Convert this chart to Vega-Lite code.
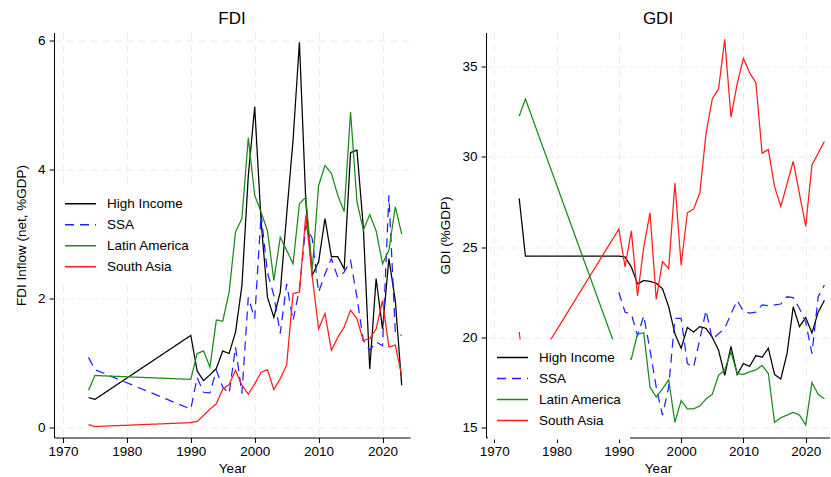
{
  "$schema": "https://vega.github.io/schema/vega-lite/v6.json",
  "padding": {"left": 14, "top": 9.5, "right": 0, "bottom": 0},
  "background": "white",
  "datasets": {
    "d": [
      {"year":1974,"region":"High Income","fdi":0.47,"gdi":27.7},
      {"year":1975,"region":"High Income","fdi":0.44,"gdi":24.5},
      {"year":1990,"region":"High Income","fdi":1.43,"gdi":24.5},
      {"year":1991,"region":"High Income","fdi":0.88,"gdi":24.45},
      {"year":1992,"region":"High Income","fdi":0.73,"gdi":23.9},
      {"year":1993,"region":"High Income","fdi":0.82,"gdi":22.96},
      {"year":1994,"region":"High Income","fdi":0.92,"gdi":23.15},
      {"year":1995,"region":"High Income","fdi":1.19,"gdi":23.1},
      {"year":1996,"region":"High Income","fdi":1.15,"gdi":23.0},
      {"year":1997,"region":"High Income","fdi":1.48,"gdi":22.7},
      {"year":1998,"region":"High Income","fdi":2.2,"gdi":21.7},
      {"year":1999,"region":"High Income","fdi":3.9,"gdi":20.2},
      {"year":2000,"region":"High Income","fdi":4.97,"gdi":19.4},
      {"year":2001,"region":"High Income","fdi":3.2,"gdi":20.55},
      {"year":2002,"region":"High Income","fdi":2.02,"gdi":20.3},
      {"year":2003,"region":"High Income","fdi":1.71,"gdi":20.6},
      {"year":2004,"region":"High Income","fdi":2.1,"gdi":20.5},
      {"year":2005,"region":"High Income","fdi":3.3,"gdi":20.0},
      {"year":2006,"region":"High Income","fdi":4.45,"gdi":19.3},
      {"year":2007,"region":"High Income","fdi":5.97,"gdi":17.9},
      {"year":2008,"region":"High Income","fdi":3.5,"gdi":19.5},
      {"year":2009,"region":"High Income","fdi":2.36,"gdi":17.95},
      {"year":2010,"region":"High Income","fdi":2.57,"gdi":18.55},
      {"year":2011,"region":"High Income","fdi":3.24,"gdi":18.4},
      {"year":2012,"region":"High Income","fdi":2.65,"gdi":19.0},
      {"year":2013,"region":"High Income","fdi":2.65,"gdi":18.9},
      {"year":2014,"region":"High Income","fdi":2.46,"gdi":19.4},
      {"year":2015,"region":"High Income","fdi":4.26,"gdi":17.95},
      {"year":2016,"region":"High Income","fdi":4.3,"gdi":17.7},
      {"year":2017,"region":"High Income","fdi":3.1,"gdi":19.1},
      {"year":2018,"region":"High Income","fdi":0.91,"gdi":21.7},
      {"year":2019,"region":"High Income","fdi":2.31,"gdi":20.6},
      {"year":2020,"region":"High Income","fdi":1.53,"gdi":21.1},
      {"year":2021,"region":"High Income","fdi":2.62,"gdi":20.25},
      {"year":2022,"region":"High Income","fdi":1.97,"gdi":21.4},
      {"year":2023,"region":"High Income","fdi":0.66,"gdi":22.05},

      {"year":1974,"region":"SSA","fdi":1.09,"gdi":null},
      {"year":1975,"region":"SSA","fdi":0.9,"gdi":null},
      {"year":1990,"region":"SSA","fdi":0.29,"gdi":22.5},
      {"year":1991,"region":"SSA","fdi":0.78,"gdi":21.4},
      {"year":1992,"region":"SSA","fdi":0.55,"gdi":21.3},
      {"year":1993,"region":"SSA","fdi":0.54,"gdi":20.1},
      {"year":1994,"region":"SSA","fdi":0.89,"gdi":21.2},
      {"year":1995,"region":"SSA","fdi":0.63,"gdi":19.3},
      {"year":1996,"region":"SSA","fdi":0.53,"gdi":17.25},
      {"year":1997,"region":"SSA","fdi":1.25,"gdi":15.7},
      {"year":1998,"region":"SSA","fdi":0.53,"gdi":17.25},
      {"year":1999,"region":"SSA","fdi":2.02,"gdi":21.05},
      {"year":2000,"region":"SSA","fdi":1.69,"gdi":21.05},
      {"year":2001,"region":"SSA","fdi":3.31,"gdi":18.55},
      {"year":2002,"region":"SSA","fdi":2.4,"gdi":18.35},
      {"year":2003,"region":"SSA","fdi":2.05,"gdi":19.9},
      {"year":2004,"region":"SSA","fdi":1.46,"gdi":21.5},
      {"year":2005,"region":"SSA","fdi":2.23,"gdi":19.9},
      {"year":2006,"region":"SSA","fdi":1.66,"gdi":20.2},
      {"year":2007,"region":"SSA","fdi":2.15,"gdi":20.5},
      {"year":2008,"region":"SSA","fdi":3.13,"gdi":21.3},
      {"year":2009,"region":"SSA","fdi":2.93,"gdi":22.05},
      {"year":2010,"region":"SSA","fdi":2.1,"gdi":21.45},
      {"year":2011,"region":"SSA","fdi":2.38,"gdi":21.35},
      {"year":2012,"region":"SSA","fdi":2.62,"gdi":21.4},
      {"year":2013,"region":"SSA","fdi":2.33,"gdi":21.8},
      {"year":2014,"region":"SSA","fdi":2.41,"gdi":21.75},
      {"year":2015,"region":"SSA","fdi":2.59,"gdi":21.8},
      {"year":2016,"region":"SSA","fdi":2.02,"gdi":21.85},
      {"year":2017,"region":"SSA","fdi":1.35,"gdi":22.25},
      {"year":2018,"region":"SSA","fdi":1.2,"gdi":22.2},
      {"year":2019,"region":"SSA","fdi":1.33,"gdi":21.6},
      {"year":2020,"region":"SSA","fdi":1.27,"gdi":20.85},
      {"year":2021,"region":"SSA","fdi":3.6,"gdi":19.1},
      {"year":2022,"region":"SSA","fdi":1.48,"gdi":22.25},
      {"year":2023,"region":"SSA","fdi":1.43,"gdi":22.9},

      {"year":1974,"region":"Latin America","fdi":0.58,"gdi":32.25},
      {"year":1975,"region":"Latin America","fdi":0.81,"gdi":33.2},
      {"year":1990,"region":"Latin America","fdi":0.75,"gdi":18.95},
      {"year":1991,"region":"Latin America","fdi":1.15,"gdi":18.9},
      {"year":1992,"region":"Latin America","fdi":1.19,"gdi":18.8},
      {"year":1993,"region":"Latin America","fdi":0.94,"gdi":20.2},
      {"year":1994,"region":"Latin America","fdi":1.67,"gdi":20.25},
      {"year":1995,"region":"Latin America","fdi":1.65,"gdi":17.25},
      {"year":1996,"region":"Latin America","fdi":2.1,"gdi":16.7},
      {"year":1997,"region":"Latin America","fdi":3.03,"gdi":17.15},
      {"year":1998,"region":"Latin America","fdi":3.24,"gdi":17.65},
      {"year":1999,"region":"Latin America","fdi":4.49,"gdi":15.3},
      {"year":2000,"region":"Latin America","fdi":3.6,"gdi":16.5},
      {"year":2001,"region":"Latin America","fdi":3.34,"gdi":16.05},
      {"year":2002,"region":"Latin America","fdi":3.05,"gdi":16.05},
      {"year":2003,"region":"Latin America","fdi":2.28,"gdi":16.2},
      {"year":2004,"region":"Latin America","fdi":2.95,"gdi":16.6},
      {"year":2005,"region":"Latin America","fdi":2.75,"gdi":16.85},
      {"year":2006,"region":"Latin America","fdi":2.54,"gdi":17.9},
      {"year":2007,"region":"Latin America","fdi":3.47,"gdi":18.2},
      {"year":2008,"region":"Latin America","fdi":3.57,"gdi":19.2},
      {"year":2009,"region":"Latin America","fdi":2.45,"gdi":18.0},
      {"year":2010,"region":"Latin America","fdi":3.75,"gdi":17.95},
      {"year":2011,"region":"Latin America","fdi":4.06,"gdi":18.1},
      {"year":2012,"region":"Latin America","fdi":3.94,"gdi":18.2},
      {"year":2013,"region":"Latin America","fdi":3.6,"gdi":18.45},
      {"year":2014,"region":"Latin America","fdi":3.35,"gdi":18.0},
      {"year":2015,"region":"Latin America","fdi":4.89,"gdi":15.3},
      {"year":2016,"region":"Latin America","fdi":3.5,"gdi":15.55},
      {"year":2017,"region":"Latin America","fdi":3.06,"gdi":15.7},
      {"year":2018,"region":"Latin America","fdi":3.3,"gdi":15.85},
      {"year":2019,"region":"Latin America","fdi":3.05,"gdi":15.7},
      {"year":2020,"region":"Latin America","fdi":2.54,"gdi":15.15},
      {"year":2021,"region":"Latin America","fdi":2.75,"gdi":17.5},
      {"year":2022,"region":"Latin America","fdi":3.42,"gdi":16.85},
      {"year":2023,"region":"Latin America","fdi":3.0,"gdi":16.6},

      {"year":1974,"region":"South Asia","fdi":0.05,"gdi":20.3},
      {"year":1975,"region":"South Asia","fdi":0.02,"gdi":17.6},
      {"year":1990,"region":"South Asia","fdi":0.08,"gdi":26.0},
      {"year":1991,"region":"South Asia","fdi":0.1,"gdi":23.9},
      {"year":1992,"region":"South Asia","fdi":0.19,"gdi":25.9},
      {"year":1993,"region":"South Asia","fdi":0.29,"gdi":22.3},
      {"year":1994,"region":"South Asia","fdi":0.37,"gdi":25.0},
      {"year":1995,"region":"South Asia","fdi":0.6,"gdi":26.9},
      {"year":1996,"region":"South Asia","fdi":0.67,"gdi":22.1},
      {"year":1997,"region":"South Asia","fdi":0.89,"gdi":24.2},
      {"year":1998,"region":"South Asia","fdi":0.66,"gdi":23.8},
      {"year":1999,"region":"South Asia","fdi":0.52,"gdi":28.55},
      {"year":2000,"region":"South Asia","fdi":0.68,"gdi":24.0},
      {"year":2001,"region":"South Asia","fdi":0.86,"gdi":26.9},
      {"year":2002,"region":"South Asia","fdi":0.9,"gdi":27.1},
      {"year":2003,"region":"South Asia","fdi":0.59,"gdi":28.0},
      {"year":2004,"region":"South Asia","fdi":0.76,"gdi":31.3},
      {"year":2005,"region":"South Asia","fdi":0.97,"gdi":33.2},
      {"year":2006,"region":"South Asia","fdi":2.08,"gdi":33.75},
      {"year":2007,"region":"South Asia","fdi":2.1,"gdi":36.5},
      {"year":2008,"region":"South Asia","fdi":3.29,"gdi":32.2},
      {"year":2009,"region":"South Asia","fdi":2.35,"gdi":34.05},
      {"year":2010,"region":"South Asia","fdi":1.53,"gdi":35.45},
      {"year":2011,"region":"South Asia","fdi":1.77,"gdi":34.65},
      {"year":2012,"region":"South Asia","fdi":1.2,"gdi":34.1},
      {"year":2013,"region":"South Asia","fdi":1.4,"gdi":30.2},
      {"year":2014,"region":"South Asia","fdi":1.56,"gdi":30.4},
      {"year":2015,"region":"South Asia","fdi":1.82,"gdi":28.35},
      {"year":2016,"region":"South Asia","fdi":1.69,"gdi":27.25},
      {"year":2017,"region":"South Asia","fdi":1.35,"gdi":28.5},
      {"year":2018,"region":"South Asia","fdi":1.38,"gdi":29.75},
      {"year":2019,"region":"South Asia","fdi":1.53,"gdi":27.95},
      {"year":2020,"region":"South Asia","fdi":1.97,"gdi":26.15},
      {"year":2021,"region":"South Asia","fdi":1.25,"gdi":29.55},
      {"year":2022,"region":"South Asia","fdi":1.28,"gdi":30.2},
      {"year":2023,"region":"South Asia","fdi":0.81,"gdi":30.85}
    ]
  },
  "spacing": 28,
  "hconcat": [
    {
      "title": "FDI",
      "width": 356,
      "height": 405,
      "data": {"name": "d"},
      "mark": {"type": "line", "strokeWidth": 1.25},
      "encoding": {
        "x": {"field": "year", "type": "quantitative",
              "scale": {"domain": [1968.6, 2024.3], "nice": false, "zero": false},
              "axis": {"values": [1970, 1980, 1990, 2000, 2010, 2020], "format": "d", "title": "Year"}},
        "y": {"field": "fdi", "type": "quantitative",
              "scale": {"domain": [-0.15, 6.12], "nice": false, "zero": false},
              "axis": {"values": [0, 2, 4, 6], "title": "FDI Inflow (net, %GDP)"}},
        "color": {"field": "region", "type": "nominal",
                  "scale": {"domain": ["High Income", "SSA", "Latin America", "South Asia"],
                            "range": ["#000000", "#2020ff", "#1a8a1a", "#ff1c1c"]},
                  "legend": {"title": null, "orient": "none", "legendX": 2, "legendY": 153.1,
                             "fillColor": "white", "padding": 8, "symbolType": "stroke",
                             "symbolSize": 961, "symbolStrokeWidth": 1.5, "labelOffset": 10,
                             "rowPadding": 0, "clipHeight": 20.4, "labelFontSize": 13.5, "labelFont": "Liberation Sans",
                             "labelColor": "#000", "zindex": 1}},
        "strokeDash": {"field": "region", "type": "nominal",
                  "scale": {"domain": ["High Income", "SSA", "Latin America", "South Asia"],
                            "range": [[1, 0], [9, 6], [1, 0], [1, 0]]},
                  "legend": {"title": null, "orient": "none", "legendX": 2, "legendY": 153.1,
                             "fillColor": "white", "padding": 8, "symbolType": "stroke",
                             "symbolSize": 961, "symbolStrokeWidth": 1.5, "labelOffset": 10,
                             "rowPadding": 0, "clipHeight": 20.4, "labelFontSize": 13.5, "labelFont": "Liberation Sans",
                             "labelColor": "#000", "zindex": 1}}
      }
    },
    {
      "title": "GDI",
      "width": 344,
      "height": 405,
      "data": {"name": "d"},
      "transform": [{"filter": "datum.gdi != null"}],
      "mark": {"type": "line", "strokeWidth": 1.25},
      "encoding": {
        "x": {"field": "year", "type": "quantitative",
              "scale": {"domain": [1968.67, 2023.9], "nice": false, "zero": false},
              "axis": {"values": [1970, 1980, 1990, 2000, 2010, 2020], "format": "d", "title": "Year"}},
        "y": {"field": "gdi", "type": "quantitative",
              "scale": {"domain": [14.46, 36.88], "nice": false, "zero": false},
              "axis": {"values": [15, 20, 25, 30, 35], "title": "GDI (%GDP)"}},
        "color": {"field": "region", "type": "nominal",
                  "scale": {"domain": ["High Income", "SSA", "Latin America", "South Asia"],
                            "range": ["#000000", "#2020ff", "#1a8a1a", "#ff1c1c"]},
                  "legend": {"title": null, "orient": "none", "legendX": 2, "legendY": 306.9,
                             "fillColor": "white", "padding": 8, "symbolType": "stroke",
                             "symbolSize": 961, "symbolStrokeWidth": 1.5, "labelOffset": 10,
                             "rowPadding": 0, "clipHeight": 20.4, "labelFontSize": 13.5, "labelFont": "Liberation Sans",
                             "labelColor": "#000", "zindex": 1}},
        "strokeDash": {"field": "region", "type": "nominal",
                  "scale": {"domain": ["High Income", "SSA", "Latin America", "South Asia"],
                            "range": [[1, 0], [9, 6], [1, 0], [1, 0]]},
                  "legend": {"title": null, "orient": "none", "legendX": 2, "legendY": 306.9,
                             "fillColor": "white", "padding": 8, "symbolType": "stroke",
                             "symbolSize": 961, "symbolStrokeWidth": 1.5, "labelOffset": 10,
                             "rowPadding": 0, "clipHeight": 20.4, "labelFontSize": 13.5, "labelFont": "Liberation Sans",
                             "labelColor": "#000", "zindex": 1}}
      }
    }
  ],
  "resolve": {"scale": {"color": "independent", "strokeDash": "independent", "x": "independent", "y": "independent"},
              "legend": {"color": "independent", "strokeDash": "independent"}},
  "config": {
    "view": {"stroke": null},
    "font": "Liberation Sans",
    "axis": {"domainColor": "#000", "tickColor": "#000", "tickSize": 5, "domainWidth": 1, "tickWidth": 1,
             "labelFont": "Liberation Sans", "labelFontSize": 13.5, "labelColor": "#000", "labelPadding": 4,
             "titleFont": "Liberation Sans", "titleFontSize": 13.5, "titleFontWeight": "normal", "titleColor": "#000",
             "titlePadding": 9, "grid": true, "gridColor": "#ebebeb", "gridDash": [7, 5], "gridWidth": 1, "labelFlush": false},
    "axisX": {"titlePadding": 3.5, "labelPadding": 2},
    "title": {"font": "Liberation Sans", "fontSize": 17, "fontWeight": "normal", "color": "#000", "anchor": "middle", "offset": 4.5}
  }
}
